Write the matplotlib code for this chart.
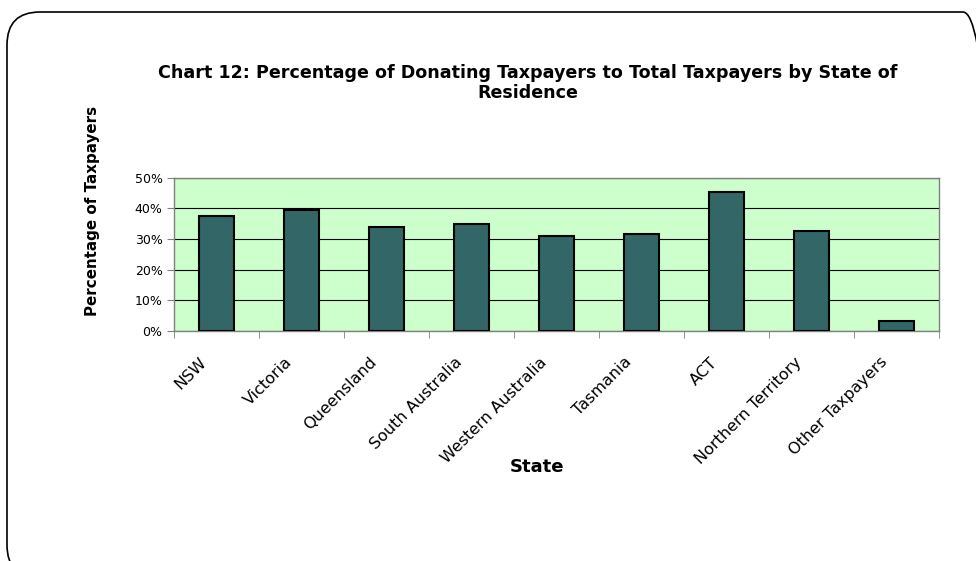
import matplotlib.pyplot as plt
import matplotlib.transforms as mtransforms
import numpy as np
from matplotlib.patches import FancyBboxPatch
from matplotlib.ticker import MultipleLocator, FuncFormatter

plt.rcParams['font.family'] = ['DejaVu Sans']

states = ['NSW', 'Victoria', 'Queensland', 'South Australia', 'Western Australia',
          'Tasmania', 'ACT', 'Northern Territory', 'Other Taxpayers']
pct = [37.7, 39.5, 33.9, 35.0, 30.9, 31.7, 45.4, 32.6, 3.3]

fig = plt.figure(figsize=(9.76, 5.61), dpi=100)

# rounded frame, runs off the right and bottom edges like the original
frame = FancyBboxPatch((7, -17), 989, 566,
                       boxstyle='round,pad=0,rounding_size=33',
                       transform=mtransforms.IdentityTransform(), fill=False,
                       edgecolor='black', linewidth=1.2)
fig.patches.append(frame)

ax = fig.add_axes([0.178, 0.41, 0.784, 0.273])
x = np.arange(len(states))
ax.bar(x, pct, width=0.41, color='#336666', edgecolor='black', linewidth=1.5, zorder=3)

ax.set_facecolor('#CCFFCC')
ax.set_xlim(-0.5, len(states) - 0.5)
ax.set_ylim(0, 50)
ax.yaxis.set_major_locator(MultipleLocator(10))
ax.yaxis.set_major_formatter(FuncFormatter(lambda v, p: '%d%%' % v))
ax.grid(axis='y', color='black', linewidth=0.8, zorder=1)

ax.set_xticks(x)
ax.set_xticklabels(states, rotation=45, ha='right', va='top', rotation_mode='anchor', fontsize=11.5)
ax.set_xticks(np.arange(-0.5, len(states)), minor=True)
ax.tick_params(axis='x', which='major', length=0, pad=17)
ax.tick_params(axis='x', which='minor', length=5, color='#808080')
ax.tick_params(axis='y', length=5, color='#808080', labelsize=9, pad=3)

shift = mtransforms.ScaledTranslation(-17 / 100, 0, fig.dpi_scale_trans)
for lab in ax.get_xticklabels():
    lab.set_transform(lab.get_transform() + shift)

for s in ax.spines.values():
    s.set_color('#808080')
    s.set_linewidth(1.0)

fig.text(537 / 976, 1 - 467 / 561, 'State', ha='center', va='center',
         fontsize=13, fontweight='bold')

fig.text(92 / 976, 1 - 211 / 561, 'Percentage of Taxpayers', rotation=90,
         ha='center', va='center', fontsize=10.9, fontweight='bold')

fig.text(0.541, 0.852, 'Chart 12: Percentage of Donating Taxpayers to Total Taxpayers by State of\nResidence',
         ha='center', va='center', fontsize=12.6, fontweight='bold', linespacing=1.2)

fig.savefig('out.png', dpi=100)
